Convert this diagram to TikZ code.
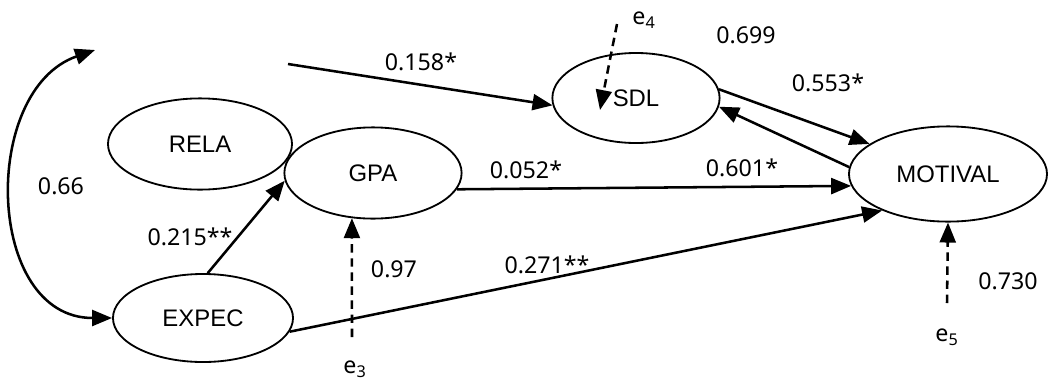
\documentclass[tikz,border=0pt]{standalone}
\usepackage{fontspec}
\setmainfont{Liberation Sans}
\newfontfamily\labfont{Noto Sans}
\usetikzlibrary{shapes.geometric,arrows.meta}

\begin{document}
\begin{tikzpicture}[
            x=0.025cm, y=-0.025cm,
            var/.style={ellipse, draw, line width=1.3pt, inner sep=0pt, font=\fontsize{17}{20}\selectfont},
            lab/.style={font=\labfont\fontsize{16.5}{20}\selectfont, inner sep=0pt},
            path/.style={line width=1.8pt, -{Triangle[length=5mm, width=4mm]}},
            err/.style={path, dash pattern=on 6pt off 4pt},
        ]
            \useasboundingbox (0,0) rectangle (1048,383);
            % latent variables
            \node[var, minimum width=4.6cm, minimum height=2.28cm](relanode) at (200,144) {RELA};
            \node[var, minimum width=4.43cm, minimum height=2.28cm](gpanode) at (373,173) {GPA};
            \node[var, minimum width=4.5cm, minimum height=2.2cm](expecnode) at (203,318) {EXPEC};
            \node[var, minimum width=4.18cm, minimum height=2.25cm](sdlnode) at (636,98) {SDL};
            \node[var, minimum width=4.95cm, minimum height=2.38cm](motivalnode) at (948,174) {MOTIVAL};
            % free ends
            \coordinate (corrtop) at (95,50);
            \coordinate (srcleft) at (288,64);
            \coordinate (e4start) at (617,24);
            \coordinate (sdlin) at (600,110);
            \coordinate (e3start) at (352,337);
            \coordinate (e5start) at (947,303);
            % error terms
            \node[lab](e4node) at (644,20) {e\textsubscript{4}};
            \node[lab](e3node) at (355,369) {e\textsubscript{3}};
            \node[lab](e5node) at (947,337) {e\textsubscript{5}};
            % paths
            \draw[path, {Triangle[length=5mm, width=4mm]}-{Triangle[length=5mm, width=4mm]}] (corrtop) .. controls (-20,90) and (-15,318) .. (expecnode.west);
            \draw[path] (srcleft) -- (sdlnode.185);
            \draw[path] (sdlnode.6) -- (motivalnode.159);
            \draw[path] (motivalnode.176) -- (sdlnode.354);
            \draw[path] (gpanode.349) -- (motivalnode.187);
            \draw[path] (expecnode.84) -- (gpanode.185);
            \draw[path] (expecnode.351) -- (motivalnode.209);
            \draw[err] (e4start) -- (sdlin);
            \draw[err] (e3start) -- (gpanode.245);
            \draw[err] (e5start) -- (motivalnode.south);
            % coefficients
            \node[lab](corrlab) at (61,186) {0.66};
            \node[lab](srclab) at (421,62) {0.158*};
            \node[lab](gpalab) at (526,170) {0.052\textbf{*}};
            \node[lab](backlab) at (742,168) {0.601*};
            \node[lab](sdllab) at (828,83) {0.553*};
            \node[lab](r2lab) at (746,35) {0.699};
            \node[lab](expgpalab) at (190,237) {0.215**};
            \node[lab](e3lab) at (394,269) {0.97};
            \node[lab](expmotlab) at (547,265) {0.271**};
            \node[lab](e5lab) at (1008,281) {0.730};
        \end{tikzpicture}
\end{document}
